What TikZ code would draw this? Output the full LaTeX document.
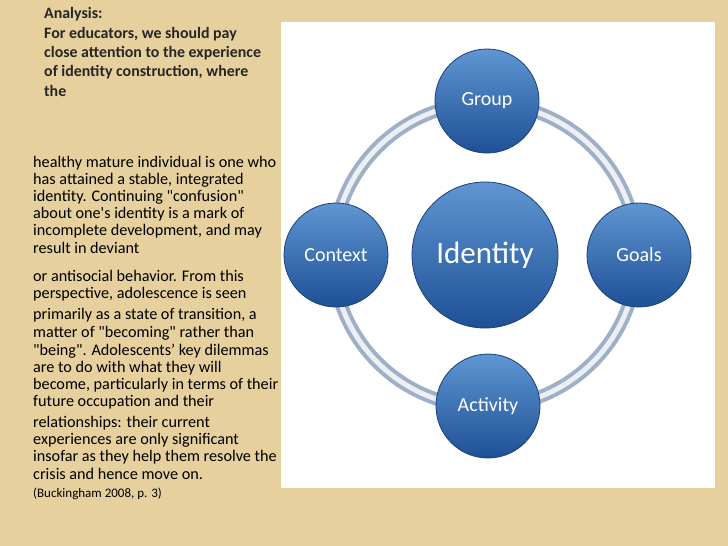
\documentclass[tikz,border=0pt]{standalone}
\usepackage{fontspec}
\setmainfont{Carlito}
\newfontfamily\plainfont{Carlito}
\definecolor{paper}{RGB}{229,208,158}
\definecolor{bubtop}{RGB}{95,150,210}
\definecolor{bubbot}{RGB}{30,80,150}
\definecolor{ringc}{RGB}{160,175,200}
\begin{document}
\begin{tikzpicture}[x=1pt,y=-1pt]
\tikzset{
  bubble/.style={circle, draw=bubbot!80!black, line width=0.8pt, top color=bubtop, bottom color=bubbot, text=white, inner sep=0pt},
  bline/.style={anchor=west, inner sep=0pt, font=\bfseries\fontsize{15.9}{17}\selectfont, text=black!85},
  tline/.style={anchor=west, inner sep=0pt, font=\plainfont\fontsize{16.2}{18}\selectfont, text=black}
}
\fill[paper] (0,0) rectangle (728,546);
\useasboundingbox (0,0) rectangle (728,546);
\fill[white] (281,22) rectangle (715,488);
% ring
\draw[line width=13pt, draw=ringc] (485,255) circle (152);
\draw[line width=5pt, draw=white!80!ringc] (485,255) circle (152);
% nodes
\node[bubble, minimum size=146pt, font=\fontsize{31}{31}\selectfont] (identity) at (485,255) {Identity};
\node[bubble, minimum size=104pt, font=\fontsize{20}{20}\selectfont] (group) at (487,101) {Group};
\node[bubble, minimum size=104pt, font=\fontsize{20}{20}\selectfont] (context) at (336,255) {Context};
\node[bubble, minimum size=104pt, font=\fontsize{20}{20}\selectfont] (goals) at (639,255) {Goals};
\node[bubble, minimum size=104pt, font=\fontsize{20}{20}\selectfont] (activity) at (488,406) {Activity};
% text
\node[bline] (b1) at (44,14) {Analysis:};
\node[bline] (b2) at (44,34) {For educators, we should pay};
\node[bline] (b3) at (44,53) {close attention to the experience};
\node[bline] (b4) at (44,72) {of identity construction, where};
\node[bline] (b5) at (44,91) {the};
\node[tline] (t1) at (33,163) {healthy mature individual is one who};
\node[tline] (t2) at (33,180) {has attained a stable, integrated};
\node[tline] (t3) at (33,197) {identity. Continuing "confusion"};
\node[tline] (t4) at (33,214) {about one's identity is a mark of};
\node[tline] (t5) at (33,231) {incomplete development, and may};
\node[tline] (t6) at (33,248) {result in deviant};
\node[tline] (t7) at (33,276) {or antisocial behavior. From this};
\node[tline] (t8) at (33,294) {perspective, adolescence is seen};
\node[tline] (t9) at (33,315) {primarily as a state of transition, a};
\node[tline] (t10) at (33,333) {matter of "becoming" rather than};
\node[tline] (t11) at (33,351) {"being". Adolescents’ key dilemmas};
\node[tline] (t12) at (33,368) {are to do with what they will};
\node[tline] (t13) at (33,385) {become, particularly in terms of their};
\node[tline] (t14) at (33,402) {future occupation and their};
\node[tline] (t15) at (33,423) {relationships: their current};
\node[tline] (t16) at (33,440) {experiences are only significant};
\node[tline] (t17) at (33,457) {insofar as they help them resolve the};
\node[tline] (t18) at (33,474) {crisis and hence move on.};
\node[tline, font=\plainfont\fontsize{13}{15}\selectfont] (t19) at (33,494) {(Buckingham 2008, p. 3)};
\end{tikzpicture}
\end{document}
